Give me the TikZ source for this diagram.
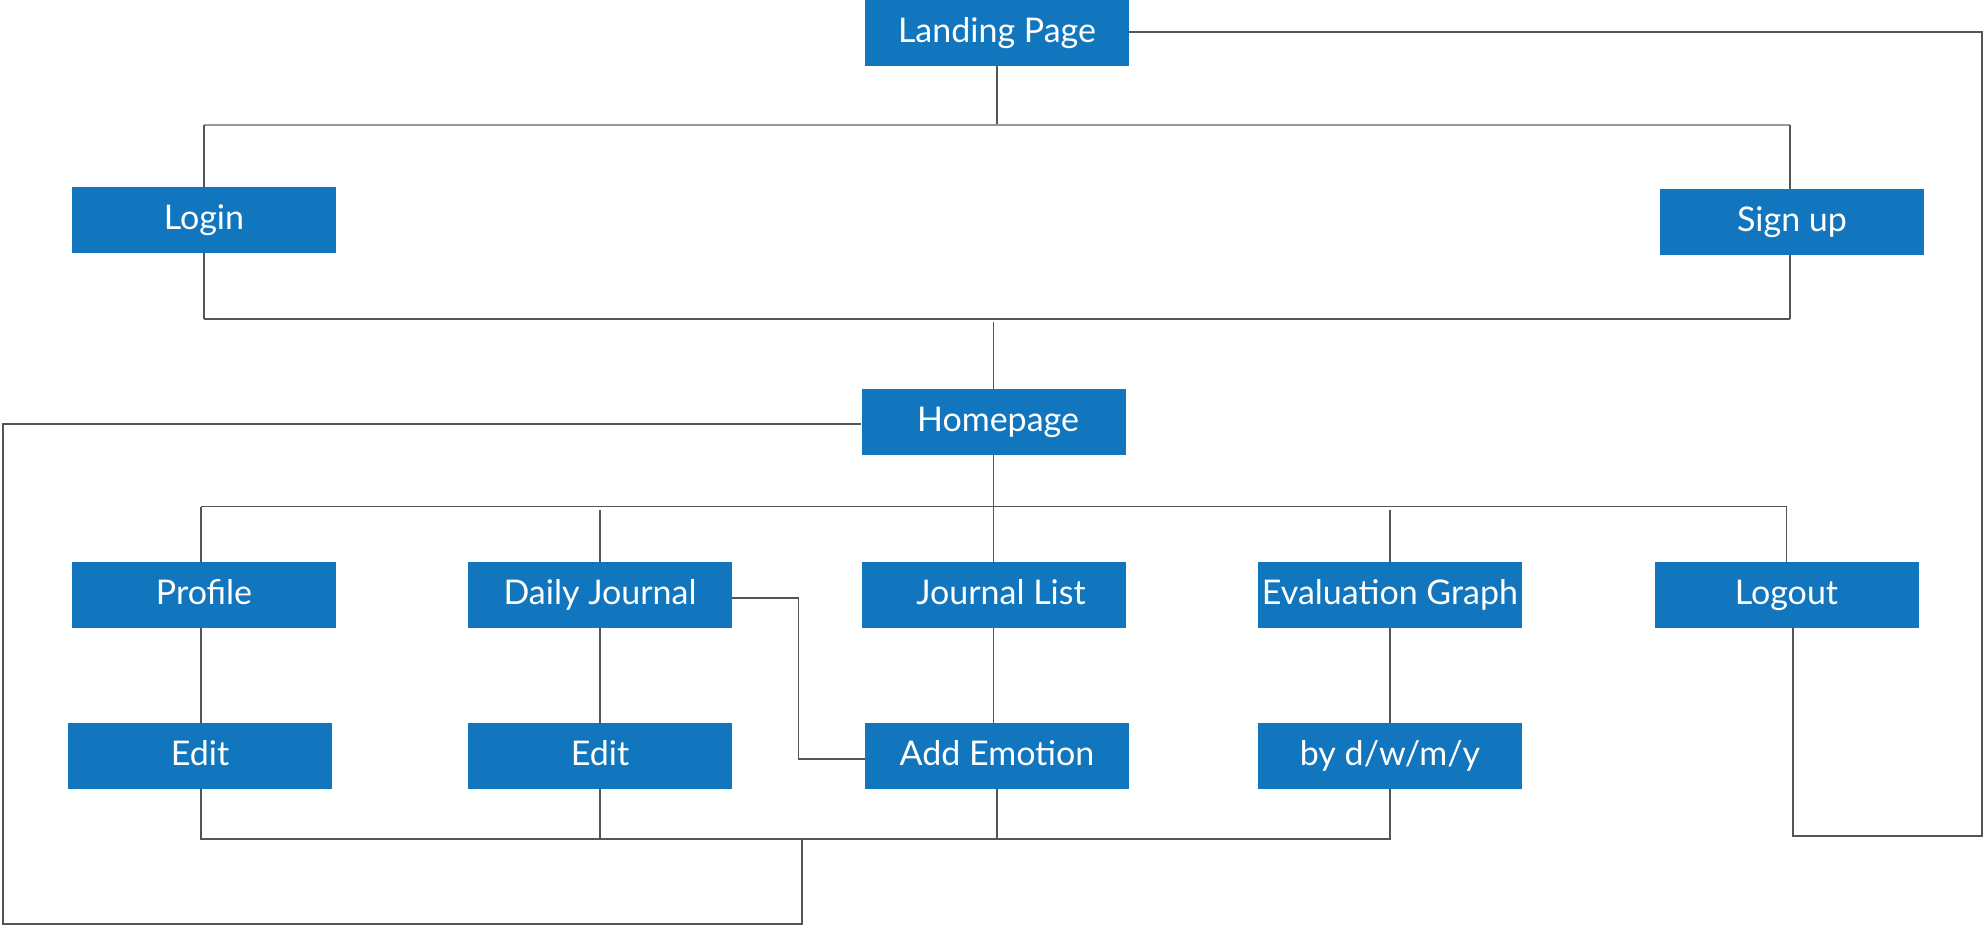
\documentclass[tikz,border=0pt]{standalone}
\usepackage{fontspec}
\setmainfont{Lato}
\definecolor{boxblue}{HTML}{1176BD}
\definecolor{linegray}{HTML}{555555}
\definecolor{lightgray}{HTML}{999999}
\begin{document}
\begin{tikzpicture}[x=1pt,y=-1pt,
  box/.style={fill=boxblue,text=white,minimum width=264pt,minimum height=66pt,inner sep=0pt,
    text height=25.6pt,text depth=6.2pt,
    font=\fontsize{34}{40}\selectfont},
  conn/.style={draw=linegray,line width=1.3pt},
  connlight/.style={draw=lightgray,line width=2pt}]
\useasboundingbox (0,0) rectangle (1986,926);
% boxes
\node[box] (landing) at (997,33) {Landing Page};
\node[box] (login) at (204,220) {Login};
\node[box] (signup) at (1792,222) {Sign up};
\node[box] (home) at (993.5,422) {\hspace*{9pt}Homepage};
\node[box] (profile) at (204,595) {Profile};
\node[box] (dj) at (600,595) {Daily Journal};
\node[box] (jl) at (993.5,595) {\hspace*{15pt}Journal List};
\node[box] (eg) at (1390,595) {Evaluation Graph};
\node[box] (logout) at (1786.5,595) {Logout};
\node[box] (edit1) at (200,756) {Edit};
\node[box] (edit2) at (600,756) {Edit};
\node[box] (ae) at (997,756) {Add Emotion};
\node[box] (byd) at (1390,756) {by d/w/m/y};
% junction coordinates
\coordinate (t1) at (997,124.7);
\coordinate (tl) at (204,124.7);
\coordinate (tr) at (1790,124.7);
\coordinate (m1l) at (204,319);
\coordinate (m1r) at (1790,319);
\coordinate (m1c) at (993.5,322);
\coordinate (h2l) at (201,506.7);
\coordinate (h2r) at (1786.5,506.7);
\coordinate (h2dj) at (600,510);
\coordinate (h2eg) at (1390,510);
\coordinate (bl) at (200,839);
\coordinate (b2) at (600,839);
\coordinate (b3) at (997,839);
\coordinate (br) at (1391,839);
\coordinate (bd) at (802,839);
\coordinate (djr) at (798.5,598);
\coordinate (djd) at (798.5,759);
\coordinate (lpr) at (1982,32);
\coordinate (lpd) at (1982,836);
\coordinate (lod) at (1793,836);
\coordinate (hl) at (3,424);
\coordinate (hld) at (3,924);
\coordinate (bdd) at (802,924);
% top tree
\draw[conn] (landing.south) -- (t1);
\draw[connlight] (tl) -- (tr);
\draw[conn] (tl) -- (login.north);
\draw[conn] (tr) -- (tr |- signup.north);
\draw[conn] (login.south) -- (m1l);
\draw[conn] (tr |- signup.south) -- (m1r);
\draw[conn] (m1l) -- (m1r);
\draw[conn] (m1c) -- (home.north);
% homepage tree
\draw[conn] (home.south) -- (jl.north);
\draw[conn] (h2l) -- (h2r);
\draw[conn] (h2l) -- (h2l |- profile.north);
\draw[conn] (h2dj) -- (dj.north);
\draw[conn] (h2eg) -- (eg.north);
\draw[conn] (h2r) -- (logout.north);
% second level
\draw[conn] (profile.south -| h2l) -- (h2l |- edit1.north);
\draw[conn] (dj.south) -- (edit2.north);
\draw[conn] (jl.south) -- (jl.south |- ae.north);
\draw[conn] (eg.south) -- (byd.north);
\draw[conn] (dj.east |- djr) -- (djr) -- (djd) -- (ae.west |- djd);
% bottom collector
\draw[conn] (h2l |- edit1.south) -- (h2l |- bl);
\draw[conn] (edit2.south) -- (b2);
\draw[conn] (ae.south) -- (b3);
\draw[conn] (byd.south) -- (byd.south |- br);
\draw[conn] (bl) -- (br);
% return to homepage
\draw[conn,line join=miter] (home.west |- hl) -- (hl) -- (hld) -- (bdd) -- (bd);
% logout to landing
\draw[conn,line join=miter] (landing.east |- lpr) -- (lpr) -- (lpd) -- (lod) -- (lod |- logout.south);
\end{tikzpicture}
\end{document}
